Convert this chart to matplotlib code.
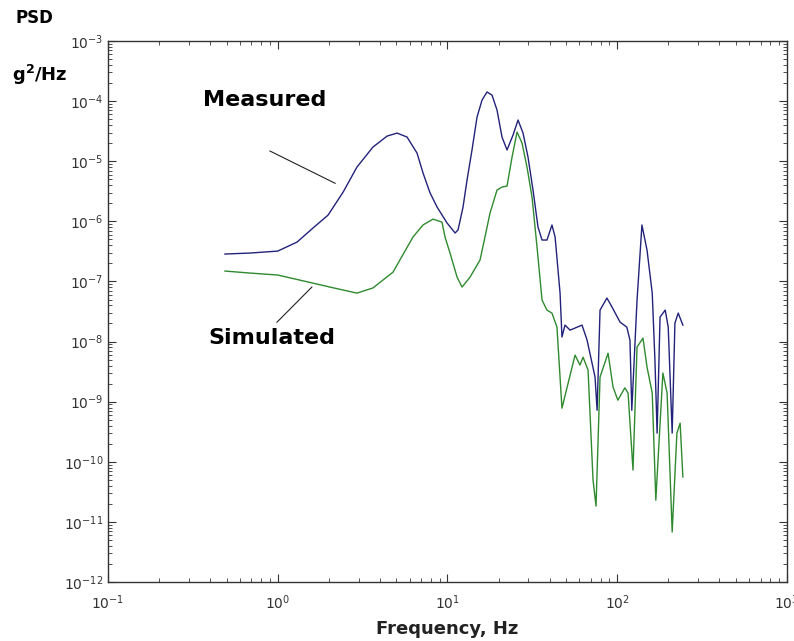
import matplotlib
matplotlib.use('Agg')
import matplotlib.pyplot as plt
from matplotlib.ticker import LogLocator, NullFormatter

# measured PSD
freq_meas = [0.489, 0.687, 1.00, 1.30, 1.61, 1.98, 2.43, 2.93, 3.64, 4.41, 5.05, 5.78, 6.62,
             7.18, 7.89, 8.69, 9.95, 11.1, 11.55, 12.36, 13.05, 13.96, 14.94, 15.99, 17.11,
             18.31, 19.6, 20.97, 22.45, 24.36, 26.07, 27.9, 29.85, 31.94, 34.19, 36.1, 38.6,
             41.3, 43.1, 46.1, 47.3, 49.3, 52.8, 62.1, 66.5, 74.1, 76.2, 79.3, 87.1, 93.3,
             104, 114, 119, 122, 131, 140, 150, 161, 167, 172, 179, 192, 200, 211, 219, 229,
             244]
psd_meas = [2.86e-7, 2.97e-7, 3.2e-7, 4.52e-7, 7.7e-7, 1.27e-6, 3.07e-6, 8.0e-6, 1.72e-5,
            2.62e-5, 2.94e-5, 2.53e-5, 1.37e-5, 6.4e-6, 3.0e-6, 1.73e-6, 9.4e-7, 6.4e-7,
            7.2e-7, 1.73e-6, 4.87e-6, 1.54e-5, 5.4e-5, 1.04e-4, 1.42e-4, 1.26e-4, 7.1e-5,
            2.53e-5, 1.54e-5, 2.73e-5, 4.85e-5, 2.94e-5, 1.17e-5, 3.32e-6, 8.0e-7, 4.89e-7,
            4.89e-7, 8.7e-7, 5.5e-7, 6.4e-8, 1.19e-8, 1.88e-8, 1.55e-8, 1.88e-8, 1.06e-8,
            2.57e-9, 7.2e-10, 3.34e-8, 5.3e-8, 3.75e-8, 2.11e-8, 1.74e-8, 1.06e-8, 7.2e-10,
            4.9e-8, 8.7e-7, 3.33e-7, 6.4e-8, 4.9e-9, 3.0e-10, 2.56e-8, 3.34e-8, 1.74e-8,
            3.0e-10, 2.03e-8, 2.98e-8, 1.88e-8]

# simulated PSD
freq_sim = [0.489, 0.687, 1.00, 1.61, 2.03, 2.93, 3.64, 4.78, 6.27, 7.18, 8.23, 9.29, 9.68,
            10.36, 11.4, 12.2, 13.59, 15.56, 16.65, 17.82, 19.6, 20.97, 22.45, 24.03, 25.72,
            27.52, 29.44, 31.51, 33.73, 36.1, 38.6, 41.3, 44.2, 47.3, 56.5, 60.4, 63.0, 67.4,
            72.1, 75.1, 79.3, 88.4, 94.6, 101, 111, 116, 124, 131, 142, 150, 161, 169, 186,
            197, 211, 225, 235, 244]
psd_sim = [1.49e-7, 1.38e-7, 1.28e-7, 9.4e-8, 8.07e-8, 6.4e-8, 7.8e-8, 1.43e-7, 5.5e-7,
           8.7e-7, 1.09e-6, 9.7e-7, 5.5e-7, 2.97e-7, 1.18e-7, 8.07e-8, 1.18e-7, 2.27e-7,
           5.5e-7, 1.37e-6, 3.32e-6, 3.72e-6, 3.87e-6, 1.17e-5, 3.06e-5, 2.01e-5, 8.0e-6,
           2.54e-6, 3.74e-7, 4.9e-8, 3.34e-8, 2.98e-8, 1.74e-8, 7.8e-10, 5.96e-9, 4.07e-9,
           5.5e-9, 3.36e-9, 5.0e-11, 1.83e-11, 2.57e-9, 6.4e-9, 1.75e-9, 1.06e-9, 1.7e-9,
           1.39e-9, 7.3e-11, 8.1e-9, 1.14e-8, 3.77e-9, 1.39e-9, 2.3e-11, 3.0e-9, 1.39e-9,
           6.8e-12, 3.0e-10, 4.4e-10, 5.6e-11]

fig = plt.figure(figsize=(7.94, 6.41), dpi=100)
ax = fig.add_axes([0.136, 0.092, 0.855, 0.844])

ax.plot(freq_sim, psd_sim, color='#2f8a2f', lw=1.0)
ax.plot(freq_meas, psd_meas, color='#22227a', lw=1.0)

ax.set_xscale('log')
ax.set_yscale('log')
ax.set_xlim(0.1, 1000)
ax.set_ylim(1e-12, 1e-3)

ax.xaxis.set_major_locator(LogLocator(base=10, numticks=10))
ax.yaxis.set_major_locator(LogLocator(base=10, numticks=15))
ax.xaxis.set_minor_locator(LogLocator(base=10, subs=range(2, 10), numticks=20))
ax.yaxis.set_minor_locator(LogLocator(base=10, subs=range(2, 10), numticks=20))
ax.xaxis.set_minor_formatter(NullFormatter())
ax.yaxis.set_minor_formatter(NullFormatter())
ax.tick_params(which='both', direction='in', top=True, right=True, labelsize=10, colors='#333333')
ax.tick_params(which='major', length=6)
ax.tick_params(which='minor', length=3)
ax.tick_params(axis='x', which='major', pad=8)
for s in ax.spines.values():
    s.set_color('#333333')
    s.set_linewidth(1.0)

ax.set_xlabel('Frequency, Hz', fontsize=13, fontweight='bold', color='#222222', labelpad=6)

# labels on the curves
ax.text(0.84, 1.04e-4, 'Measured', fontsize=16, fontweight='bold', ha='center', va='center')
ax.plot([0.90, 2.18], [1.48e-5, 4.3e-6], color='#222222', lw=0.8)
ax.text(0.925, 1.15e-8, 'Simulated', fontsize=16, fontweight='bold', ha='center', va='center')
ax.plot([0.99, 1.59], [2.1e-8, 8.07e-8], color='#222222', lw=0.8)

fig.text(0.02, 0.972, 'PSD', fontsize=12, fontweight='bold', va='center')
fig.text(0.015, 0.883, 'g$^\\mathbf{2}$/Hz', fontsize=13, fontweight='bold', va='center')

plt.savefig('out.png', dpi=100)
